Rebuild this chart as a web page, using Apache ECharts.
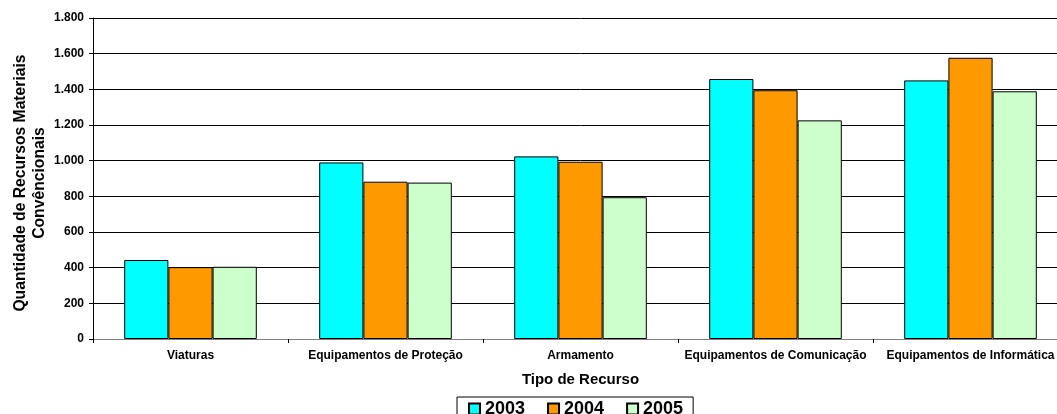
<!DOCTYPE html>
<html>
<head>
<meta charset="utf-8">
<script src="https://cdn.jsdelivr.net/npm/echarts@6/dist/echarts.min.js"></script>
<style>
  html, body { margin: 0; padding: 0; background: #fff; overflow: hidden; }
  #wrap { width: 1057px; height: 414px; overflow: hidden; }
  /* the plot runs a little past the right edge of the frame */
  #chart { width: 1068px; height: 414px; }
</style>
</head>
<body>
<div id="wrap"><div id="chart"></div></div>
<script>
// Recursos materiais convencionais por tipo e ano
const categories = ['Viaturas', 'Equipamentos de Proteção', 'Armamento', 'Equipamentos de Comunicação', 'Equipamentos de Informática'];
const years = ['2003', '2004', '2005'];
const values2003 = [443, 990, 1024, 1458, 1450];
const values2004 = [403, 882, 994, 1395, 1577];
const values2005 = [405, 877, 795, 1226, 1389];
const yearColors = ['#00FFFF', '#FF9900', '#CCFFCC'];

const FONT = '"Liberation Sans", Arial, sans-serif';
const seriesData = [values2003, values2004, values2005];

const chart = echarts.init(document.getElementById('chart'), null, { renderer: 'canvas' });

function thousands(v) {
  return String(v).replace(/\B(?=(\d{3})+(?!\d))/g, '.');
}

chart.setOption({
  animation: false,
  backgroundColor: '#ffffff',
  grid: { left: 93, right: 0, top: 18, bottom: 75, containLabel: false, outerBoundsMode: 'none' },
  legend: {
    data: years,
    left: 457,
    top: 397,
    itemWidth: 11,
    itemHeight: 11,
    itemGap: 22,
    padding: [3, 10, 3, 11],
    borderColor: '#000',
    borderWidth: 1,
    icon: 'rect',
    textStyle: { fontFamily: FONT, fontWeight: 'bold', fontSize: 18, color: '#000' }
  },
  xAxis: {
    type: 'category',
    data: categories,
    name: 'Tipo de Recurso',
    nameLocation: 'middle',
    nameGap: 33,
    nameTextStyle: { fontFamily: FONT, fontWeight: 'bold', fontSize: 15, color: '#000' },
    axisLine: { lineStyle: { color: '#808080', width: 1 } },
    axisTick: { show: true, alignWithLabel: false, length: 4, lineStyle: { color: '#000' } },
    axisLabel: { fontFamily: FONT, fontWeight: 'bold', fontSize: 12, color: '#000', margin: 11, interval: 0 },
    splitLine: { show: false }
  },
  yAxis: {
    type: 'value',
    min: 0,
    max: 1800,
    interval: 200,
    name: 'Quantidade de Recursos Materiais\nConvêncionais',
    nameLocation: 'middle',
    nameGap: 44,
    nameMoveOverlap: false,
    nameRotate: 90,
    nameTextStyle: { fontFamily: FONT, fontWeight: 'bold', fontSize: 15.7, color: '#000', lineHeight: 19, align: 'center', padding: [0, 9, 0, 0] },
    axisLine: { show: true, lineStyle: { color: '#000', width: 1 } },
    axisTick: { show: true, inside: false, length: 4, lineStyle: { color: '#000' } },
    axisLabel: { fontFamily: FONT, fontWeight: 'bold', fontSize: 12, color: '#000', margin: 9, formatter: thousands },
    splitLine: { show: true, lineStyle: { color: '#000', width: 1 } }
  },
  series: years.map((y, i) => ({
    name: y,
    type: 'bar',
    data: seriesData[i],
    barGap: '0%',
    barCategoryGap: '32%',
    itemStyle: { color: yearColors[i], borderColor: '#000', borderWidth: 1 }
  }))
});
</script>
</body>
</html>
